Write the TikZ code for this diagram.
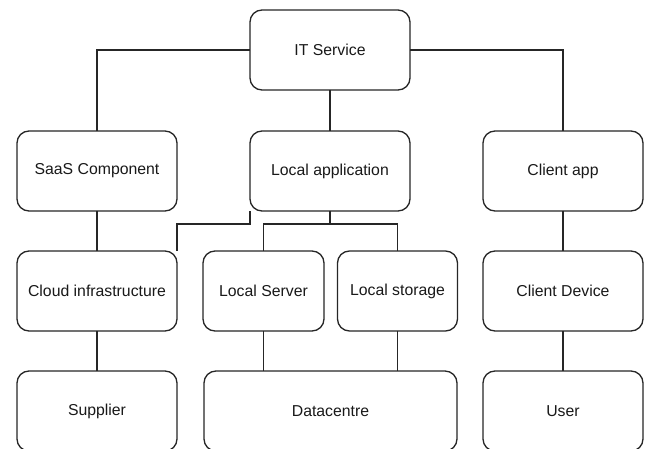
\documentclass[tikz,border=0pt]{standalone}
\usepackage{fontspec}
\setmainfont{Liberation Sans}
\begin{document}
\begin{tikzpicture}[x=1pt,y=-1pt,
  box/.style={draw=black!85, line width=1.3pt, rounded corners=12pt, rectangle,
    minimum height=80pt, inner sep=0pt, outer sep=0pt, fill=white,
    font=\fontsize{15.8}{19}\selectfont, text=black!90},
  w160/.style={minimum width=160pt},
  link/.style={draw=black!85, line width=1.3pt}]
\useasboundingbox (0,0) rectangle (645,449);
\clip (0,0) rectangle (645,449);
\node[box,w160] (it) at (330,50) {IT Service};
\node[box,w160] (saas) at (97,171) {SaaS Component};
\node[box,w160] (localapp) at (330,171) {Local application};
\node[box,w160] (clientapp) at (563,171) {Client app};
\node[box,w160] (cloud) at (97,291) {Cloud infrastructure};
\node[box,minimum width=121pt] (lserver) at (263.5,291) {Local Server};
\node[box,minimum width=120pt] (lstorage) at (397.5,291) {Local storage};
\node[box,w160] (clientdev) at (563,291) {Client Device};
\node[box,w160] (supplier) at (97,411) {Supplier};
\node[box,minimum width=253pt] (datacentre) at (330.5,411) {Datacentre};
\node[box,w160] (user) at (563,411) {User};
\coordinate (split) at (330,224);
\coordinate (bend) at (250,224);
\draw[link] (it.west) -| (saas.north);
\draw[link] (it.east) -| (clientapp.north);
\draw[link] (it.south) -- (localapp.north);
\draw[link] (saas.south) -- (cloud.north);
\draw[link] (cloud.south) -- (supplier.north);
\draw[link] (clientapp.south) -- (clientdev.north);
\draw[link] (clientdev.south) -- (user.north);
\draw[link] (localapp.south) -- (split) -| (lserver.north);
\draw[link] (split) -| (lstorage.north);
\draw[link] (localapp.south west) -- (bend) -| (cloud.north east);
\draw[link] (lserver.south) -- (lserver.south |- datacentre.north);
\draw[link] (lstorage.south) -- (lstorage.south |- datacentre.north);
\end{tikzpicture}
\end{document}
